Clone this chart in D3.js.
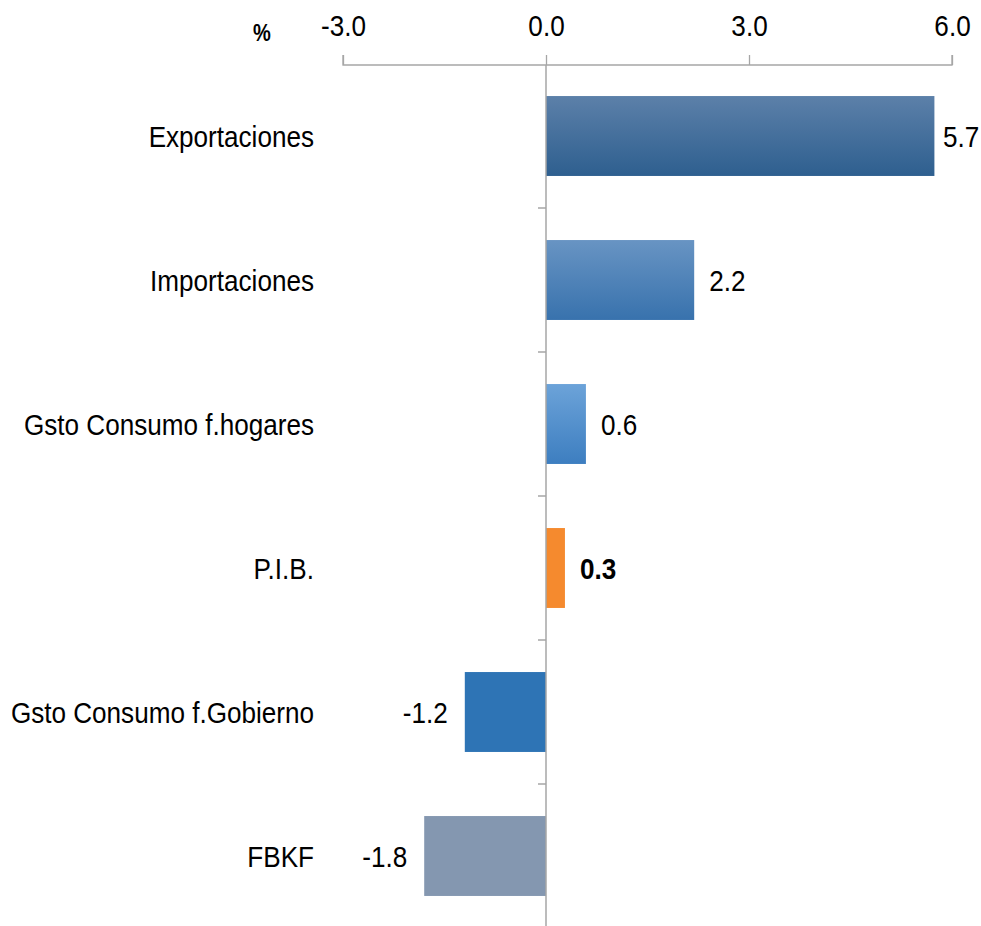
<!DOCTYPE html>
<html><head><meta charset="utf-8">
<script src="https://cdn.jsdelivr.net/npm/d3@7"></script>
<style>body{margin:0;background:#fff}svg{display:block}text{font-family:"Liberation Sans Narrow","Arial Narrow","Liberation Sans",Arial,sans-serif}</style>
</head><body><svg id="c" width="981" height="926"></svg>
<script>
const categories = ["Exportaciones","Importaciones","Gsto Consumo f.hogares","P.I.B.","Gsto Consumo f.Gobierno","FBKF"];
const values = [5.74, 2.19, 0.59, 0.28, -1.2, -1.8];
const tickValues = [-3, 0, 3, 6];
const unitLabel = "%";
const colors = [["#5c80a9","#2e5f8f"],["#6894c3","#3872ad"],["#6ca3d9","#3d7ec0"],["#f58a2e","#f58a2e"],["#2e74b5","#2e74b5"],["#8497b0","#8497b0"]];

const SX = 0.87;
const svg = d3.select("#c");
const x = d3.scaleLinear().domain([-3,6]).range([343,952]);
const y = d3.scaleBand().domain(categories).range([64,928]).paddingInner(0.445).paddingOuter(0.2225);
const loc = d3.formatLocale({decimal:".",thousands:",",grouping:[3],currency:["",""],minus:"-"});
const fmt = loc.format(".1f");

const defs = svg.append("defs");
colors.forEach((c,i)=>{
  const g = defs.append("linearGradient").attr("id","g"+i).attr("x1",0).attr("y1",0).attr("x2",0).attr("y2",1);
  g.append("stop").attr("offset","0%").attr("stop-color",c[0]);
  g.append("stop").attr("offset","100%").attr("stop-color",c[1]);
});

// top axis
const xAxis = d3.axisTop(x).tickValues(tickValues).tickFormat(fmt).tickSize(10).tickSizeOuter(0);
const gx = svg.append("g").attr("transform","translate(0,65)").call(xAxis);
gx.select(".domain").attr("stroke","#a6a6a6").attr("stroke-width",1.3).attr("d","M343,-10V0H952V-10");
gx.selectAll(".tick line").attr("stroke","#a6a6a6").attr("stroke-width",1.3).attr("y2",-10);
gx.selectAll(".tick text").attr("font-size",30).attr("fill","#000").attr("y",-29).attr("dy","0")
  .attr("transform",`scale(${SX},1)`);

svg.append("text").attr("transform",`translate(262,41) scale(${SX},1)`).attr("text-anchor","middle")
  .attr("font-size",23).attr("font-weight","bold").text(unitLabel);

// bars
svg.selectAll("rect.bar").data(values).join("rect").attr("class","bar")
  .attr("x",d=>x(Math.min(0,d))).attr("width",d=>Math.abs(x(d)-x(0)))
  .attr("y",(d,i)=>y(categories[i])).attr("height",y.bandwidth())
  .attr("fill",(d,i)=>`url(#g${i})`);

// vertical axis
const boundaries = categories.slice(1).map(c=>y(c)-y.step()*y.paddingInner()/2);
svg.append("line").attr("x1",x(0)).attr("x2",x(0)).attr("y1",65).attr("y2",926).attr("stroke","#a6a6a6").attr("stroke-width",1.5);
svg.selectAll("line.yt").data(boundaries).join("line").attr("class","yt")
  .attr("x1",x(0)-8).attr("x2",x(0)).attr("y1",d=>d).attr("y2",d=>d).attr("stroke","#a6a6a6").attr("stroke-width",1.5);

// category labels
svg.selectAll("text.cat").data(categories).join("text").attr("class","cat")
  .attr("transform",d=>`translate(314,${y(d)+y.bandwidth()/2}) scale(${SX},1)`)
  .attr("dy","0.35em").attr("text-anchor","end")
  .attr("font-size",30).attr("fill","#000").text(d=>d);

// value labels
svg.selectAll("text.val").data(values).join("text").attr("class","val")
  .attr("transform",(d,i)=>{
    const xx = d>=0 ? Math.min(x(d)+15, 943) : x(d)-17;
    return `translate(${xx},${y(categories[i])+y.bandwidth()/2}) scale(${SX},1)`;
  })
  .attr("dy","0.35em")
  .attr("text-anchor",d=>d>=0?"start":"end")
  .attr("font-size",30).attr("fill","#000")
  .attr("font-weight",(d,i)=>categories[i]==="P.I.B."?"bold":"normal")
  .text(d=>fmt(d));
</script></body></html>
